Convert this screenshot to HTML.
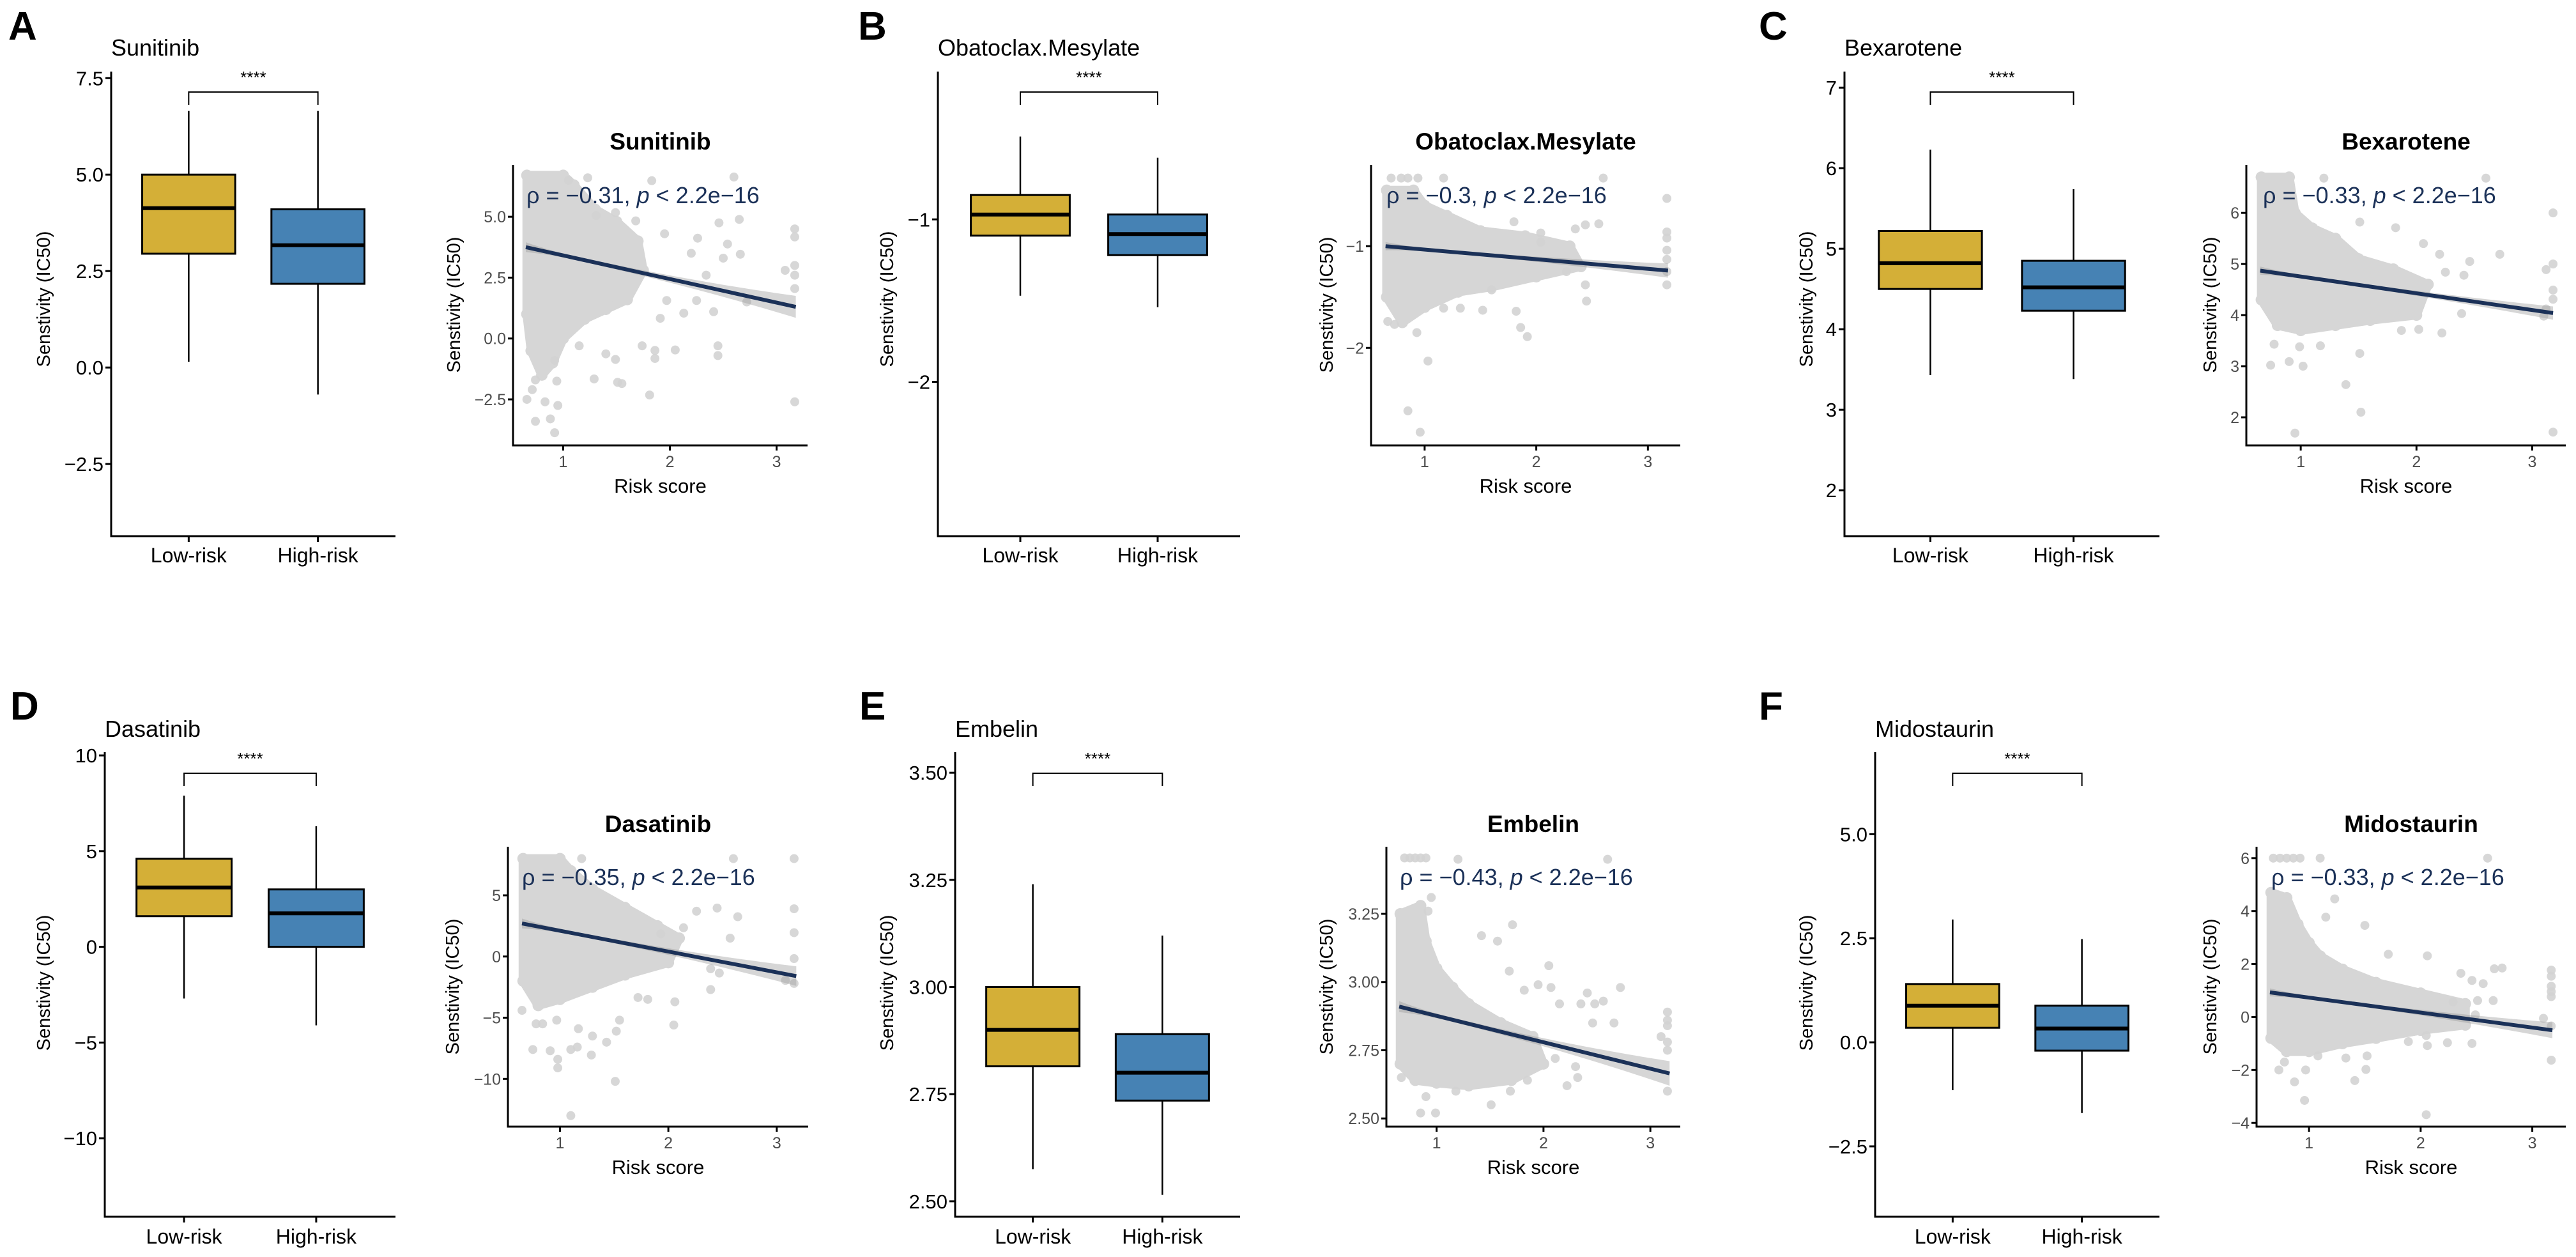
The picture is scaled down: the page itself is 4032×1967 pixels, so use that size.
<!DOCTYPE html>
<html><head><meta charset="utf-8"><title>Drug sensitivity by risk group</title>
<style>
html,body{margin:0;padding:0;background:#fff;}
svg{display:block;font-family:"Liberation Sans",Arial,sans-serif;}
</style></head>
<body>
<svg id="fig" xmlns="http://www.w3.org/2000/svg" width="4032" height="1967" viewBox="0 0 4032 1967"></svg>
<script>
const drugs = ["Sunitinib","Obatoclax.Mesylate","Bexarotene","Dasatinib","Embelin","Midostaurin"];
const panelLetters = ["A","B","C","D","E","F"];
const groups = ["Low-risk","High-risk"];
// [min, q1, median, q3, max]
const lowRiskStats = [[0.15,2.95,4.13,5.0,6.65],[-1.47,-1.10,-0.97,-0.85,-0.49],[3.43,4.5,4.82,5.22,6.23],[-2.7,1.6,3.1,4.6,7.9],[2.575,2.815,2.9,3.0,3.24],[-1.15,0.35,0.88,1.4,2.95]];
const highRiskStats = [[-0.7,2.17,3.17,4.1,6.65],[-1.54,-1.22,-1.09,-0.97,-0.62],[3.38,4.23,4.52,4.85,5.74],[-4.1,0.0,1.75,3.0,6.3],[2.515,2.735,2.80,2.89,3.12],[-1.7,-0.2,0.33,0.88,2.48]];
const boxYDomain = [[-4.37,7.67],[-2.95,-0.09],[1.43,7.2],[-14.1,10.17],[2.464,3.548],[-4.19,6.97]];
const boxYTicks = [[-2.5,0,2.5,5,7.5],[-2,-1],[2,3,4,5,6,7],[-10,-5,0,5,10],[2.5,2.75,3,3.25,3.5],[-2.5,0,2.5,5]];
const boxYTickLabels = [["−2.5","0.0","2.5","5.0","7.5"],["−2","−1"],["2","3","4","5","6","7"],["−10","−5","0","5","10"],["2.50","2.75","3.00","3.25","3.50"],["−2.5","0.0","2.5","5.0"]];
const scatterXDomain = [[0.53,3.29],[0.52,3.29],[0.53,3.29],[0.52,3.29],[0.53,3.28],[0.53,3.30]];
const scatterYDomain = [[-4.39,7.13],[-2.96,-0.2],[1.45,6.94],[-13.9,8.97],[2.47,3.496],[-4.14,6.43]];
const scatterXTicks = [1,2,3];
const scatterXTickLabels = ["1","2","3"];
const scatterYTicks = [[-2.5,0,2.5,5],[-2,-1],[2,3,4,5,6],[-10,-5,0,5],[2.5,2.75,3,3.25],[-4,-2,0,2,4,6]];
const scatterYTickLabels = [["−2.5","0.0","2.5","5.0"],["−2","−1"],["2","3","4","5","6"],["−10","−5","0","5"],["2.50","2.75","3.00","3.25"],["−4","−2","0","2","4","6"]];
const rhoValues = ["−0.31","−0.3","−0.33","−0.35","−0.43","−0.33"];
const fitX = [0.65,3.18];
const fitStartY = [3.75,-1.0,4.87,2.7,2.91,0.93];
const fitEndY = [1.3,-1.24,4.04,-1.6,2.665,-0.5];
// confidence band half-width [at start, minimum, at end]
const bandHalf = [[0.2,0.08,0.45],[0.04,0.015,0.07],[0.08,0.03,0.13],[0.4,0.15,0.8],[0.02,0.008,0.045],[0.15,0.06,0.3]];

const cloudA = [[0.66,6.7],[1.0,6.7],[1.1,6.3],[1.3,5.3],[1.5,4.8],[1.7,4.0],[1.75,2.8],[1.6,1.6],[1.4,1.2],[1.2,0.8],[1.0,0.0],[0.9,-1.0],[0.8,-1.5],[0.7,-0.5],[0.66,1.0]];
const cloudB = [[0.66,-0.45],[0.9,-0.45],[1.0,-0.6],[1.2,-0.7],[1.5,-0.85],[1.9,-0.9],[2.3,-1.0],[2.4,-1.2],[2.0,-1.3],[1.6,-1.4],[1.3,-1.45],[1.0,-1.6],[0.8,-1.75],[0.66,-1.5]];
const cloudC = [[0.66,6.7],[0.9,6.7],[0.95,6.0],[1.1,5.7],[1.3,5.5],[1.5,5.1],[1.8,4.9],[2.1,4.6],[2.0,4.0],[1.6,3.9],[1.3,3.8],[1.0,3.7],[0.8,3.8],[0.66,4.3]];
const cloudD = [[0.66,8],[1.0,8],[1.1,7],[1.3,5.5],[1.6,4],[1.9,2.5],[2.1,1.5],[2.0,-0.5],[1.6,-1.5],[1.3,-2.5],[1.0,-3.5],[0.8,-4],[0.66,-2]];
const cloudE = [[0.66,3.25],[0.85,3.28],[0.9,3.15],[1.0,3.05],[1.15,2.98],[1.3,2.92],[1.6,2.85],[1.9,2.8],[2.0,2.7],[1.7,2.64],[1.3,2.62],[1.0,2.63],[0.8,2.64],[0.66,2.7]];
const cloudF = [[0.66,4.7],[0.8,4.5],[0.9,3.5],[1.0,2.8],[1.1,2.3],[1.3,1.8],[1.6,1.3],[2.0,0.9],[2.4,0.5],[2.4,-0.3],[2.0,-0.5],[1.6,-0.8],[1.3,-1.0],[1.0,-1.3],[0.8,-1.3],[0.66,-0.8]];

const pointsA = [[2.60,6.63],[1.83,6.48],[2.65,4.89],[2.46,4.75],[3.17,4.5],[3.17,4.17],[2.26,4.12],[2.54,3.88],[1.95,4.3],[2.2,3.5],[2.66,3.46],[2.5,3.3],[3.17,3.0],[3.08,2.8],[3.17,2.6],[3.17,2.05],[2.34,2.6],[2.25,1.56],[2.41,1.1],[2.13,1.04],[1.97,1.56],[1.91,0.83],[2.72,1.5],[2.45,-0.3],[2.45,-0.7],[2.05,-0.47],[1.86,-0.49],[1.86,-0.82],[1.74,-0.3],[1.81,-2.32],[3.17,-2.6],[1.55,-1.85],[1.51,-1.8],[1.29,-1.66],[1.4,-0.63],[1.49,-0.86],[1.15,-0.3],[0.92,-3.87],[0.74,-3.4],[0.88,-3.3],[0.95,-2.75],[0.83,-2.6],[0.66,-2.5],[0.71,-2.1],[0.74,-1.7],[0.94,-1.75],[0.92,-0.9],[1.23,6.6],[1.05,6.5],[1.49,5.17],[1.68,4.83],[1.31,5.05]];
const pointsB = [[2.6,-0.33],[3.17,-0.53],[1.8,-0.76],[2.44,-0.79],[2.56,-0.78],[2.35,-0.83],[2.04,-0.87],[3.17,-0.86],[3.17,-0.92],[3.17,-1.04],[3.17,-1.13],[3.17,-1.25],[3.17,-1.38],[2.44,-1.38],[2.45,-1.54],[1.92,-1.89],[1.86,-1.8],[1.82,-1.64],[1.03,-2.13],[0.85,-2.62],[0.96,-2.83],[0.93,-1.85],[0.73,-1.77],[0.67,-1.74],[1.52,-1.63],[1.32,-1.61],[1.17,-1.61],[2.04,-0.96],[2.27,-1.25],[1.6,-1.43],[0.94,-0.33],[1.17,-0.33],[0.79,-0.33],[0.7,-0.33],[0.85,-0.33]];
const pointsC = [[2.6,6.68],[1.2,6.68],[3.18,6.0],[1.51,5.82],[1.82,5.71],[2.72,5.19],[2.06,5.4],[2.2,5.19],[2.46,5.05],[3.18,5.0],[3.12,4.89],[3.18,4.49],[3.18,4.31],[2.25,4.84],[2.41,4.78],[2.39,4.03],[2.22,3.65],[2.02,3.72],[1.87,3.7],[1.51,3.25],[1.39,2.64],[1.52,2.1],[0.95,1.69],[3.18,1.71],[0.74,3.02],[0.9,3.09],[1.02,3.0],[1.17,3.4],[0.99,3.38],[0.77,3.43],[3.1,3.98],[3.12,4.12]];
const pointsD = [[2.6,8.0],[3.16,8.0],[1.2,8.0],[3.16,3.9],[3.16,1.95],[3.16,-0.17],[3.16,-2.2],[3.08,-1.95],[2.64,3.25],[2.45,3.96],[2.26,3.7],[2.57,1.5],[2.39,-1.0],[2.47,-1.35],[2.39,-2.7],[2.06,-3.7],[2.05,-5.6],[1.81,-3.5],[1.72,-3.35],[1.55,-5.2],[1.52,-6.1],[1.43,-7.0],[1.29,-8.05],[1.3,-6.5],[1.16,-7.4],[1.1,-7.6],[1.51,-10.2],[1.1,-13.0],[0.98,-9.1],[0.98,-8.4],[0.91,-7.7],[0.75,-7.6],[0.78,-5.5],[0.84,-5.5],[0.65,-4.4],[0.97,-5.2],[1.17,-5.9],[2.14,2.35],[1.93,1.85]];
const pointsE = [[0.7,3.455],[0.75,3.455],[0.8,3.455],[0.85,3.455],[0.9,3.455],[1.2,3.45],[2.6,3.45],[0.95,3.31],[0.92,3.26],[1.42,3.17],[1.71,3.21],[1.57,3.15],[2.05,3.06],[1.68,3.04],[1.95,2.99],[2.07,2.98],[1.82,2.97],[2.41,2.96],[2.56,2.93],[2.72,2.98],[2.48,2.92],[2.35,2.92],[2.15,2.92],[2.46,2.85],[2.66,2.85],[3.16,2.89],[3.16,2.86],[3.16,2.84],[3.1,2.8],[3.16,2.78],[3.16,2.75],[3.16,2.6],[2.22,2.62],[2.32,2.65],[2.3,2.69],[2.11,2.72],[1.85,2.64],[1.69,2.6],[1.51,2.55],[1.18,2.6],[0.9,2.58],[0.99,2.52],[0.85,2.52],[0.67,2.65]];
const pointsF = [[0.68,6.0],[0.74,6.0],[0.8,6.0],[0.86,6.0],[0.92,6.0],[1.1,6.0],[2.6,6.0],[1.23,4.46],[1.5,3.46],[1.15,3.77],[2.06,2.31],[1.71,2.37],[2.36,1.65],[2.66,1.82],[2.73,1.85],[2.56,1.26],[2.46,1.38],[3.17,1.77],[3.17,1.54],[3.17,1.16],[3.17,0.96],[3.17,0.77],[2.65,0.62],[2.51,0.62],[2.29,0.57],[2.49,0.08],[3.1,-0.05],[3.17,-0.34],[3.17,-1.63],[2.46,-1.0],[2.24,-0.97],[2.06,-1.08],[2.05,-0.7],[1.89,-0.93],[1.51,-1.98],[1.41,-2.4],[0.96,-3.15],[2.05,-3.69],[0.97,-2.0],[0.87,-2.45],[0.73,-2.0],[0.78,-1.7],[1.08,-1.47],[1.33,-1.55],[1.52,-1.47]];
const clouds = [cloudA,cloudB,cloudC,cloudD,cloudE,cloudF];
const pointSets = [pointsA,pointsB,pointsC,pointsD,pointsE,pointsF];

(function(){
  const NS = "http://www.w3.org/2000/svg";
  const svg = document.getElementById("fig");
  function mk(tag, attrs, parent, text){
    const e = document.createElementNS(NS, tag);
    for (const k in attrs) e.setAttribute(k, attrs[k]);
    if (text !== undefined) e.textContent = text;
    (parent || svg).appendChild(e);
    return e;
  }
  function lin(d0,d1,r0,r1){ return v => r0 + (v-d0)/(d1-d0)*(r1-r0); }
  const FONT = '"Liberation Sans", Arial, sans-serif';
  const rows = [{bt:112,bb:839,st:258,sb:697,title:87,letter:62,stitle:234,ann:318,xlab:880,sxlab:731,risk:771,ytc:468,sytc:477,star:130,br:144},
                {bt:1177,bb:1904,st:1325,sb:1763,title:1153,letter:1126,stitle:1302,ann:1385,xlab:1946,sxlab:1797,risk:1837,ytc:1538,sytc:1544,star:1196,br:1210}];
  const boxAxisX = [174,1468,2887,164,1495,2935];
  const boxXEnd = [619,1941,3380,619,1941,3380];
  const boxYTitleOff = [105,79,59,95,106,107];
  const scL = [803,2146,3516,795,2170,3532];
  const scR = [1264,2630,4016,1265,2630,4016];
  const scYTitleX = [711,2077,3460,709,2077,3460];
  const letterX = [13,1343,2753,16,1345,2753];
  const annOff = [21,24,26,22,21,23];

  for (let i=0;i<6;i++){
    const r = rows[i<3?0:1];
    const g = mk("g",{});
    
    

    const letter = mk("text",{x:letterX[i],y:r.letter,"font-size":62,"font-weight":"bold","font-family":FONT},g,panelLetters[i]);
    
    

    const bg = mk("g",{},g);
    
    
    const ax = boxAxisX[i], xe = boxXEnd[i];
    const unit = (xe-ax)/2.2;
    const xc = k => ax + (0.6 + k)*unit;
    const y = lin(boxYDomain[i][0], boxYDomain[i][1], r.bb, r.bt);
    const bt = mk("text",{x:ax,y:r.title,"font-size":36,"font-family":FONT},bg,drugs[i]);
    
    

    const stats = [lowRiskStats[i], highRiskStats[i]];
    const cols = ["#d4af37","#4682b4"];
    for (let k=0;k<2;k++){
      const s = stats[k], cx = xc(k), hw = 0.36*unit;
      const wk = mk("line",{x1:cx,x2:cx,y1:y(s[0]),y2:y(s[4]),stroke:"#000","stroke-width":2.5},bg);
      
      
      const bx = mk("rect",{x:cx-hw,y:y(s[3]),width:2*hw,height:y(s[1])-y(s[3]),fill:cols[k],stroke:"#000","stroke-width":3},bg);
      
      
      const md = mk("line",{x1:cx-hw,x2:cx+hw,y1:y(s[2]),y2:y(s[2]),stroke:"#000","stroke-width":6},bg);
      
      
      const xl = mk("text",{x:cx,y:r.xlab,"font-size":32,"text-anchor":"middle","font-family":FONT},bg,groups[k]);
      
      
      mk("line",{x1:cx,x2:cx,y1:r.bb,y2:r.bb+9,stroke:"#000","stroke-width":3},bg);
    }
    const axL = mk("path",{d:`M${ax},${r.bt}V${r.bb}H${xe}`,fill:"none",stroke:"#000","stroke-width":3},bg);
    
    
    boxYTicks[i].forEach((t,j)=>{
      mk("line",{x1:ax-9,x2:ax,y1:y(t),y2:y(t),stroke:"#000","stroke-width":3},bg);
      const tl = mk("text",{x:ax-12,y:y(t)+11,"font-size":31,"text-anchor":"end","font-family":FONT},bg,boxYTickLabels[i][j]);
      
      
    });
    const yt = mk("text",{x:ax-boxYTitleOff[i],y:r.ytc,"font-size":29,"text-anchor":"middle","dominant-baseline":"central","font-family":FONT,transform:`rotate(-90 ${ax-boxYTitleOff[i]} ${r.ytc})`},bg,"Senstivity (IC50)");
    
    
    const x0 = xc(0), x1 = xc(1);
    const brk = mk("path",{d:`M${x0},${r.br+20}V${r.br}H${x1}V${r.br+20}`,fill:"none",stroke:"#000","stroke-width":2},bg);
    
    
    const st = mk("text",{x:(x0+x1)/2,y:r.star,"font-size":26,"text-anchor":"middle","font-family":FONT},bg,"****");
    
    

    const sg = mk("g",{},g);
    
    
    const sx = lin(scatterXDomain[i][0], scatterXDomain[i][1], scL[i], scR[i]);
    const sy = lin(scatterYDomain[i][0], scatterYDomain[i][1], r.sb, r.st);
    const cl = mk("polygon",{points:clouds[i].map(p=>sx(p[0])+","+sy(p[1])).join(" "),fill:"#d6d6d6",stroke:"#d6d6d6","stroke-width":14,"stroke-linejoin":"round"},sg);
    
    
    clouds[i].forEach(p=>{
      const c = mk("circle",{cx:sx(p[0]),cy:sy(p[1]),r:9,fill:"#d6d6d6"},sg);
      
      
    });
    pointSets[i].forEach(p=>{
      const c = mk("circle",{cx:sx(p[0]),cy:sy(p[1]),r:7,fill:"#d3d3d3","fill-opacity":0.9},sg);
      
      
    });
    const bh = bandHalf[i];
    const fy = xv => fitStartY[i] + (xv-fitX[0])/(fitX[1]-fitX[0])*(fitEndY[i]-fitStartY[i]);
    const hw = xv => xv < 1.1 ? bh[1] + (bh[0]-bh[1])*Math.pow((1.1-xv)/(1.1-fitX[0]),2)
                              : bh[1] + (bh[2]-bh[1])*Math.pow((xv-1.1)/(fitX[1]-1.1),2);
    const up=[], lo=[];
    for (let s=0;s<=40;s++){
      const xv = fitX[0] + (fitX[1]-fitX[0])*s/40;
      up.push(sx(xv)+","+sy(fy(xv)+hw(xv)));
      lo.unshift(sx(xv)+","+sy(fy(xv)-hw(xv)));
    }
    const band = mk("polygon",{points:up.concat(lo).join(" "),fill:"#999","fill-opacity":0.4},sg);
    
    
    const fl = mk("line",{x1:sx(fitX[0]),y1:sy(fitStartY[i]),x2:sx(fitX[1]),y2:sy(fitEndY[i]),stroke:"#1b3158","stroke-width":6},sg);
    
    

    const sax = mk("path",{d:`M${scL[i]},${r.st}V${r.sb}H${scR[i]}`,fill:"none",stroke:"#000","stroke-width":3},sg);
    
    
    scatterXTicks.forEach((t,j)=>{
      mk("line",{x1:sx(t),x2:sx(t),y1:r.sb,y2:r.sb+8,stroke:"#000","stroke-width":3},sg);
      const tl = mk("text",{x:sx(t),y:r.sxlab,"font-size":25,"text-anchor":"middle",fill:"#4d4d4d","font-family":FONT},sg,scatterXTickLabels[j]);
      
      
    });
    scatterYTicks[i].forEach((t,j)=>{
      mk("line",{x1:scL[i]-8,x2:scL[i],y1:sy(t),y2:sy(t),stroke:"#000","stroke-width":3},sg);
      const tl = mk("text",{x:scL[i]-11,y:sy(t)+9,"font-size":25,"text-anchor":"end",fill:"#4d4d4d","font-family":FONT},sg,scatterYTickLabels[i][j]);
      
      
    });
    const cxm = (scL[i]+scR[i])/2;
    const stl = mk("text",{x:cxm,y:r.stitle,"font-size":37,"font-weight":"bold","text-anchor":"middle","font-family":FONT},sg,drugs[i]);
    
    
    const rs = mk("text",{x:cxm,y:r.risk,"font-size":31,"text-anchor":"middle","font-family":FONT},sg,"Risk score");
    
    
    const syt = mk("text",{x:scYTitleX[i],y:r.sytc,"font-size":29,"text-anchor":"middle","dominant-baseline":"central","font-family":FONT,transform:`rotate(-90 ${scYTitleX[i]} ${r.sytc})`},sg,"Senstivity (IC50)");
    
    
    const ann = mk("text",{x:scL[i]+annOff[i],y:r.ann,"font-size":36,fill:"#1b3158","font-family":FONT},sg);
    
    
    mk("tspan",{},ann,"ρ = "+rhoValues[i]+", ");
    mk("tspan",{"font-style":"italic"},ann,"p");
    mk("tspan",{},ann," < 2.2e−16");
  }
})();
</script>
</body></html>
